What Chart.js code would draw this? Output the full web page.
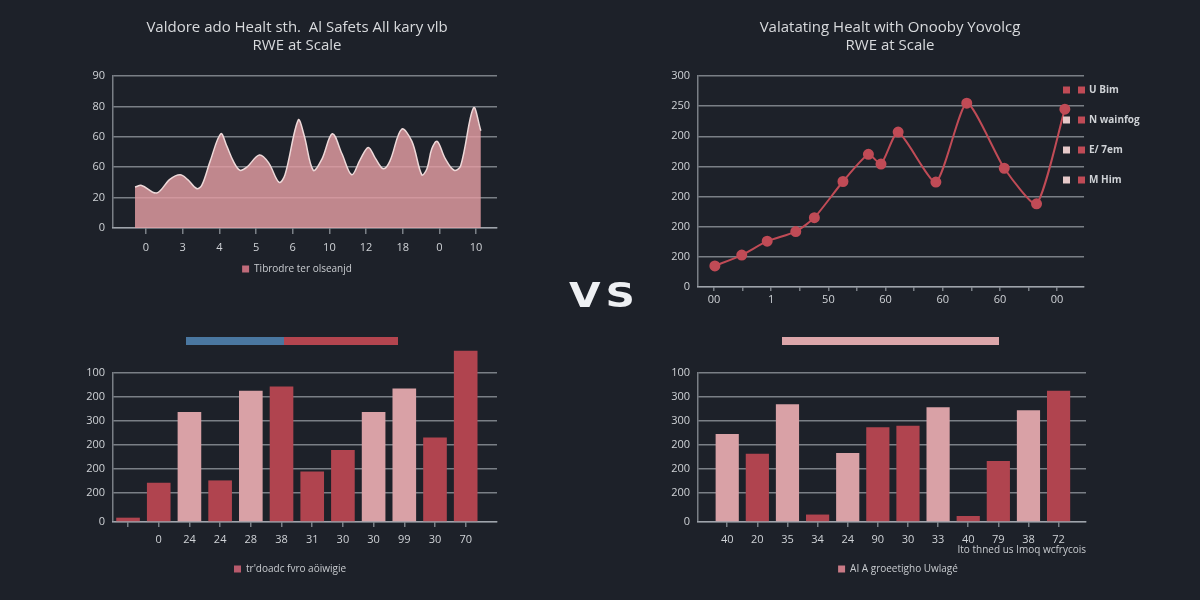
<!DOCTYPE html>
<html>
<head>
<meta charset="utf-8">
<script src="https://cdn.jsdelivr.net/npm/chart.js@4.4.1/dist/chart.umd.min.js"></script>
<style>
  body { margin: 0; width: 1200px; height: 600px; background: #1d2129; position: relative; overflow: hidden; }
  canvas { position: absolute; }
  .vs { position: absolute; left: 552px; top: 278px; width: 100px; padding-left: 4px; box-sizing: border-box; text-align: center; font: bold 34px 'DejaVu Sans', sans-serif; line-height: 34px; letter-spacing: 4px; color: #eef0f3; transform: scaleX(1.2); }
  .strip { position: absolute; top: 337px; height: 8px; }
</style>
</head>
<body>
<canvas id="areaChart" width="474" height="284" style="left:60px;top:0px"></canvas>
<canvas id="lineChart" width="520" height="307" style="left:630px;top:0px"></canvas>
<canvas id="barChartA" width="460" height="254" style="left:60px;top:330px"></canvas>
<canvas id="barChartB" width="516" height="254" style="left:640px;top:330px"></canvas>
<div class="vs">VS</div>
<div class="strip" style="left:186px;width:98px;background:#4a77a0"></div>
<div class="strip" style="left:284px;width:114px;background:#b4454f"></div>
<div class="strip" style="left:782px;width:217px;background:#dca6aa"></div>
<script>
// top left: area
const areaX = [0.70, 0.88, 1.29, 1.65, 1.93, 2.13, 2.38, 2.52, 2.75, 3.04, 3.20, 3.38, 3.56, 3.75, 4.09, 4.34, 4.63, 4.79, 5.15, 5.31, 5.56, 5.79, 6.08, 6.34, 6.61, 6.84, 7.06, 7.25, 7.47, 7.65, 7.97, 8.25, 8.52, 8.66, 8.79, 8.94, 9.15, 9.40, 9.58, 9.93, 10.13];
const areaY = [27, 28, 23, 32, 35, 32, 26, 28, 44, 62, 54, 44, 38, 40, 48, 43, 30, 35, 71, 61, 38, 45, 62, 49, 35, 45, 53, 46, 39, 44, 65, 57, 35, 39, 52, 57, 46, 38, 41, 79, 64];
const areaXTicks = [1, 2, 3, 4, 5, 6, 7, 8, 9, 10];
const areaXLabels = ['0', '3', '4', '5', '6', '10', '12', '18', '0', '10'];
const areaYTicks = [0, 20, 40, 60, 80, 100];
const areaYLabels = ['0', '20', '60', '60', '80', '90'];

// top right: line
const lineX = [0.03, 0.97, 1.86, 2.86, 3.51, 4.51, 5.40, 5.84, 6.44, 7.76, 8.84, 10.15, 11.28, 12.27];
const lineY = [35, 53, 76, 92, 115, 175, 220, 204, 257, 174, 305, 197, 138, 295];
const lineXTicks = [0, 1, 2, 3, 4, 5, 6, 7, 8, 9, 10, 11, 12];
const lineXLabels = ['00', '', '1', '', '50', '', '60', '', '60', '', '60', '', '00'];
const lineYTicks = [0, 50, 100, 150, 200, 250, 300, 350];
const lineYLabels = ['0', '200', '200', '200', '200', '200', '250', '300'];
const lineLegendNames = ['U Bim', 'N wainfog', 'E/ 7em', 'M Him'];
const lineLegendFirst = ['#c04b56', '#e6c9c9', '#e6c9c9', '#e6c9c9'];

// bottom left: bars
const barsA = [18, 163, 458, 173, 546, 564, 210, 300, 458, 556, 352, 713];
const barsAKind = ['r', 'r', 'p', 'r', 'p', 'r', 'r', 'r', 'p', 'p', 'r', 'r'];
const barsALabels = ['', '0', '24', '24', '28', '38', '31', '30', '30', '99', '30', '70'];
const barsYTicks = [0, 120, 220, 320, 420, 520, 620];
const barsAYLabels = ['0', '200', '200', '200', '300', '200', '100'];

// bottom right: bars
const barsB = [366, 284, 490, 31, 287, 394, 401, 478, 25, 254, 465, 546];
const barsBKind = ['p', 'r', 'p', 'r', 'p', 'r', 'r', 'p', 'r', 'r', 'p', 'r'];
const barsBLabels = ['40', '20', '35', '34', '24', '90', '30', '33', '40', '79', '38', '72'];
const barsBYLabels = ['0', '200', '200', '200', '300', '300', '100'];

const RED = '#b0444f';
const PINK = '#d9a1a6';
const GRID = 'rgba(185,190,196,0.6)';
const TICK = '#cfd2d6';

Chart.defaults.font.family = "'Open Sans', sans-serif";
Chart.defaults.color = TICK;

function fixTicks(values) {
    return axis => { axis.ticks = values.map(v => ({ value: v })); };
}

function yAxis(ticks, labels, max, width) {
    return {
        min: 0,
        max: max,
        afterBuildTicks: fixTicks(ticks),
        afterFit: s => { s.width = width; },
        ticks: { padding: 8, font: { size: 11 }, callback: (v, i) => labels[i] },
        grid: { color: GRID, lineWidth: 1.5, drawTicks: false },
        border: { display: true, color: GRID, width: 1.5 },
    };
}

// empty box on the right so titles and legends centre where the picture has them
function spacer(width) {
    return {
        position: 'right',
        display: true,
        afterFit: s => { s.width = width; },
        ticks: { display: false },
        grid: { display: false, drawTicks: false },
        border: { display: false },
    };
}

function xAxis(min, max, ticks, labels, height, tickLen, pad) {
    return {
        type: 'linear',
        min: min,
        max: max,
        offset: false,
        afterBuildTicks: fixTicks(ticks),
        afterFit: s => { s.height = height; },
        ticks: { padding: pad, font: { size: 11 }, maxRotation: 0, autoSkip: false, callback: (v, i) => labels[i] },
        grid: { drawOnChartArea: false, drawTicks: true, tickLength: tickLen, color: GRID, lineWidth: 1.5, offset: false },
        border: { display: true, color: GRID, width: 1.5 },
    };
}

function oneLegend(color) {
    return {
        position: 'bottom',
        labels: {
            boxWidth: 7, boxHeight: 7, padding: 6, color: '#c9ccd0', font: { size: 10 },
            generateLabels: chart => [{
                text: chart.data.datasets[0].label, fillStyle: color, strokeStyle: color,
                lineWidth: 0, hidden: false, datasetIndex: 0, fontColor: '#c9ccd0',
            }],
        },
    };
}

const twoLineTitle = text => ({
    display: true,
    text: text,
    color: '#d8dadd',
    font: { size: 15, weight: '500' },
    padding: { top: 19, bottom: 21 },
});

new Chart(document.getElementById('areaChart'), {
    type: 'line',
    data: {
        datasets: [{
            label: 'Tibrodre ter olseanjd',
            data: areaX.map((x, i) => ({ x: x, y: areaY[i] })),
            fill: 'origin',
            backgroundColor: 'rgba(228,158,163,0.82)',
            borderColor: '#eed9d9',
            borderWidth: 1.5,
            pointRadius: 0,
            tension: 0.35,
        }],
    },
    options: {
        responsive: false,
        animation: false,
        plugins: {
            title: twoLineTitle(['Valdore ado Healt sth.  Al Safets All kary vlb', 'RWE at Scale']),
            legend: oneLegend('#c06b7a'),
            tooltip: { enabled: false },
        },
        scales: {
            x: xAxis(0.1, 10.57, areaXTicks, areaXLabels, 30, 6, 7),
            y: yAxis(areaYTicks, areaYLabels, 100, 53),
            pad: spacer(37),
        },
    },
});

const lineLegendPlugin = {
    id: 'lineLegend',
    afterDraw(chart) {
        const ctx = chart.ctx;
        const a = chart.chartArea;
        ctx.save();
        ctx.font = "bold 10px 'Open Sans', sans-serif";
        ctx.textBaseline = 'middle';
        lineLegendNames.forEach((name, i) => {
            const y = a.top + 14 + i * 30;
            ctx.fillStyle = lineLegendFirst[i];
            ctx.fillRect(a.right - 21, y - 3.5, 7, 7);
            ctx.fillStyle = '#c04b56';
            ctx.fillRect(a.right - 6, y - 3.5, 7, 7);
            ctx.fillStyle = '#cfd2d6';
            ctx.fillText(name, a.right + 5, y);
        });
        ctx.restore();
    },
};

new Chart(document.getElementById('lineChart'), {
    type: 'line',
    data: {
        datasets: [{
            label: 'RWE',
            data: lineX.map((x, i) => ({ x: x, y: lineY[i] })),
            borderColor: '#c04b56',
            backgroundColor: '#c04b56',
            borderWidth: 2,
            pointRadius: 4.5,
            pointBackgroundColor: '#c04b56',
            tension: 0.2,
            clip: false,
        }],
    },
    options: {
        responsive: false,
        animation: false,
        plugins: {
            title: twoLineTitle(['Valatating Healt with Onooby Yovolcg', 'RWE at Scale']),
            legend: { display: false },
            tooltip: { enabled: false },
        },
        scales: {
            x: xAxis(-0.56, 12.94, lineXTicks, lineXLabels, 20, 4, 2),
            y: yAxis(lineYTicks, lineYLabels, 350, 68),
            pad: spacer(66),
        },
    },
    plugins: [lineLegendPlugin],
});

function barChart(id, values, kinds, xLabels, yLabels, legendText, legendColor, xMin, xMax, yWidth, padRight, xTitle) {
    const x = xAxis(xMin, xMax, values.map((v, i) => i), xLabels, 36, 5, 6);
    if (xTitle) {
        x.title = { display: true, text: xTitle, align: 'end', color: '#c9ccd0', font: { size: 10 }, padding: { top: 0, bottom: 2 } };
    }
    return new Chart(document.getElementById(id), {
        type: 'bar',
        data: {
            datasets: [{
                label: legendText,
                data: values.map((v, i) => ({ x: i, y: v })),
                backgroundColor: kinds.map(k => (k === 'r' ? RED : PINK)),
                categoryPercentage: 1,
                barPercentage: 0.77,
                clip: false,
            }],
        },
        options: {
            responsive: false,
            animation: false,
            layout: { padding: { top: 43 } },
            plugins: {
                legend: oneLegend(legendColor),
                tooltip: { enabled: false },
            },
            scales: {
                x: x,
                y: yAxis(barsYTicks, yLabels, 620, yWidth),
                pad: spacer(padRight),
            },
        },
    });
}

barChart('barChartA', barsA, barsAKind, barsALabels, barsAYLabels, "tr'doadc fvro aöiwigie", '#b85a6c', -0.49, 12.02, 53, 23, null);
barChart('barChartB', barsB, barsBKind, barsBLabels, barsBYLabels, 'AI A groeetigho Uwlagé', '#c97a86', -0.97, 11.91, 58, 70, 'Ito thned us Imoq wcfrycois');
</script>
</body>
</html>
